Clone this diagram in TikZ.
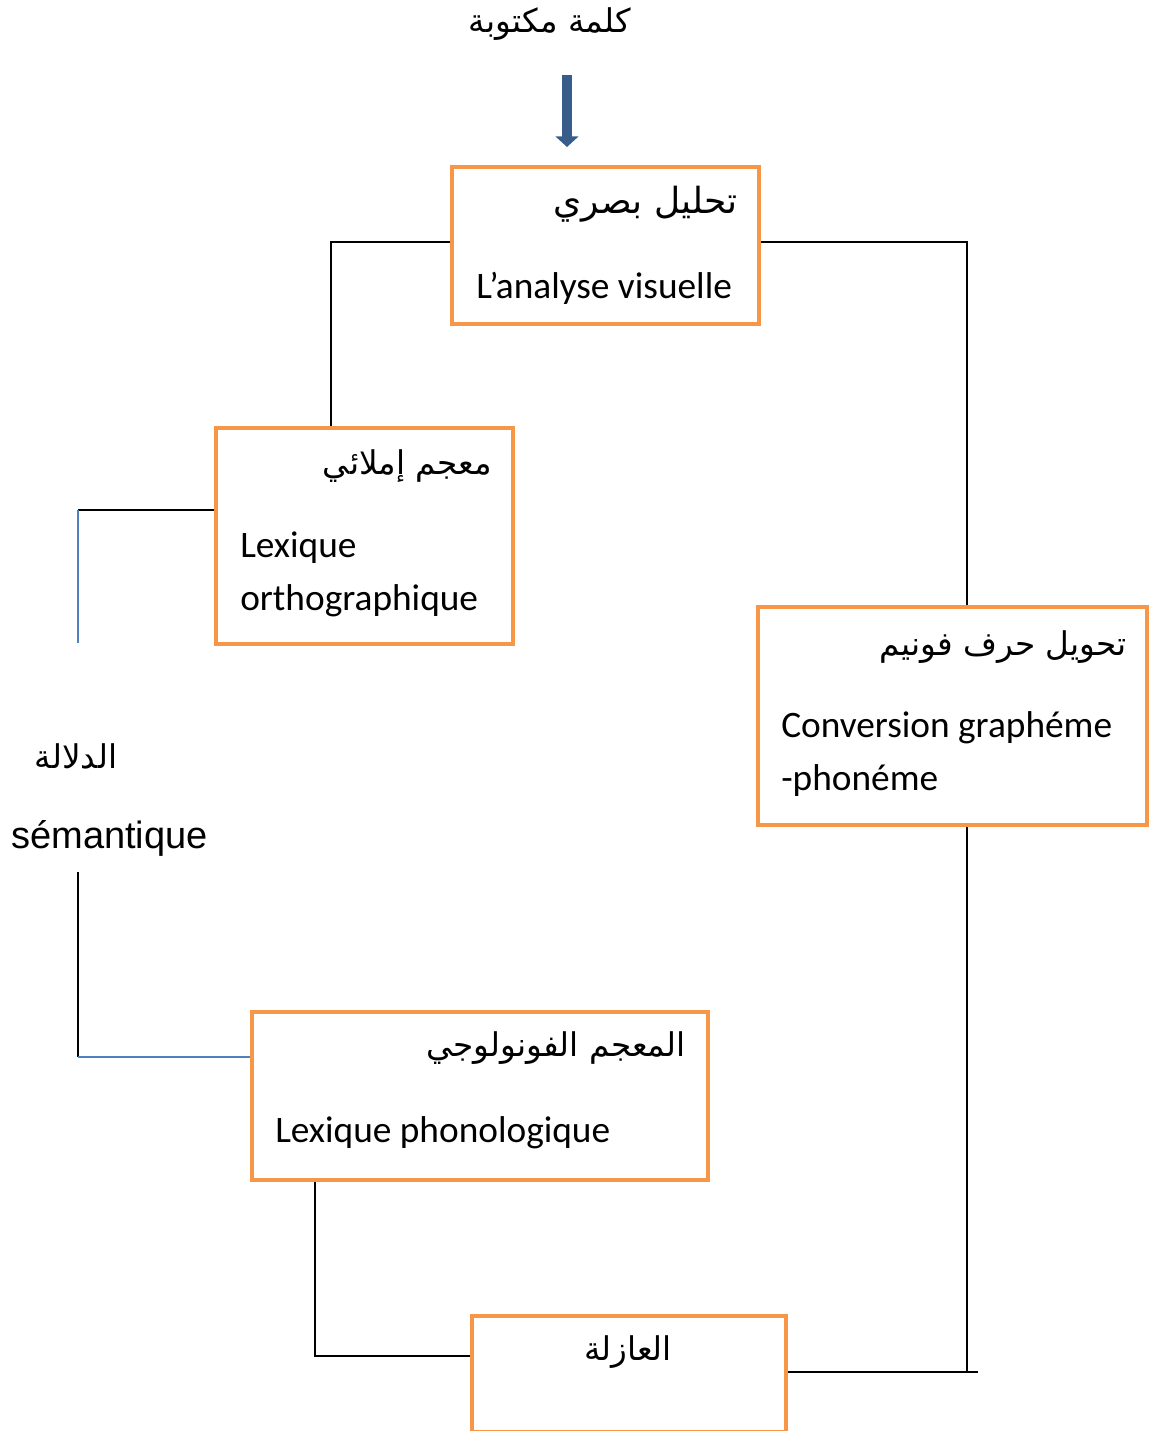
\documentclass[tikz,border=0pt]{standalone}
\usepackage{fontspec}
\usetikzlibrary{arrows.meta}
\TeXXeTstate=1
\setmainfont{Carlito}
\newfontfamily\arabicfont[Script=Arabic]{DejaVu Sans}
\newfontfamily\arialfont{Liberation Sans}
\definecolor{boxorange}{HTML}{F79646}
\definecolor{linkblue}{HTML}{4F81BD}
\definecolor{arrowblue}{HTML}{385D8A}
\newcommand{\ar}[1]{{\arabicfont\beginR #1\endR}}
\begin{document}
\begin{tikzpicture}[x=0.75pt,y=-0.75pt,
  box/.style={draw=boxorange,line width=3pt,inner sep=0pt},
  conn/.style={draw=black,line width=1.3pt},
  blueconn/.style={draw=linkblue,line width=1.3pt},
  lat/.style={inner sep=0pt,font=\fontsize{28}{33}\selectfont},
  arb/.style={inner sep=0pt,font=\fontsize{24.5}{30}\selectfont}]
\useasboundingbox (0,0) rectangle (1149,1431);

% boxes
\node[box,minimum width=307*0.75pt,minimum height=157*0.75pt] (b1) at (605.5,245.5) {};
\node[box,minimum width=297*0.75pt,minimum height=216*0.75pt] (b2) at (364.5,536) {};
\node[box,minimum width=389*0.75pt,minimum height=218*0.75pt] (b3) at (952.5,716) {};
\node[box,minimum width=456*0.75pt,minimum height=168*0.75pt] (b4) at (480,1096) {};
\node[box,minimum width=314*0.75pt,minimum height=116*0.75pt] (b5) at (629,1374) {};

% labels
\node[arb] (top) at (550,24) {\ar{كلمة مكتوبة}};
\node[arb,font=\fontsize{27}{32}\selectfont,anchor=east] (t1a) at (738,204) {\ar{تحليل بصري}};
\node[lat,anchor=base west] (t1b) at (476,298) {L’analyse visuelle};
\node[arb,anchor=east] (t2a) at (492,466) {\ar{معجم إملائي}};
\node[lat,anchor=base west] (t2b) at (240,557) {Lexique};
\node[lat,anchor=base west] (t2c) at (240,610) {orthographique};
\node[arb,anchor=east] (t3a) at (1127,647) {\ar{تحويل حرف فونيم}};
\node[lat,anchor=base west] (t3b) at (781,737) {Conversion graphéme};
\node[lat,anchor=base west] (t3c) at (781,790) {-phonéme};
\node[arb,anchor=east] (t4a) at (686,1048) {\ar{المعجم الفونولوجي}};
\node[lat,anchor=base west] (t4b) at (275,1142) {Lexique phonologique};
\node[arb] (t5a) at (628,1352) {\ar{العازلة}};
\node[arb] (s0) at (76,756) {\ar{الدلالة}};
\node[inner sep=0pt,anchor=base west,font=\arialfont\fontsize{28.5}{34}\selectfont] (s1) at (11,848) {sémantique};

% thick arrow into the visual analysis
\coordinate (a0) at (567,75);
\coordinate (a1) at (567,147);
\draw[arrowblue,line width=7pt,-{Triangle[width=17pt,length=8pt]}] (a0) -- (a1);

% connectors
\coordinate (e1) at (331,242);
\draw[conn] (b1.west |- e1) -- (e1) -- (e1 |- b2.north);
\coordinate (e2) at (967,242);
\draw[conn] (b1.east |- e2) -- (e2) -- (e2 |- b3.north);
\coordinate (e3) at (78,510);
\coordinate (f1) at (78,643);
\draw[conn] (b2.west |- e3) -- (e3);
\draw[blueconn] (e3) -- (f1);
\coordinate (f2) at (78,872);
\coordinate (e4) at (78,1057);
\draw[conn] (f2) -- (e4);
\draw[blueconn] (e4) -- (e4 -| b4.west);
\coordinate (e5) at (967,1372);
\coordinate (f3) at (978,1372);
\draw[conn] (e5 |- b3.south) -- (e5);
\draw[conn] (b5.east |- e5) -- (f3);
\coordinate (e7) at (315,1356);
\draw[conn] (e7 |- b4.south) -- (e7) -- (e7 -| b5.west);
\end{tikzpicture}
\end{document}
